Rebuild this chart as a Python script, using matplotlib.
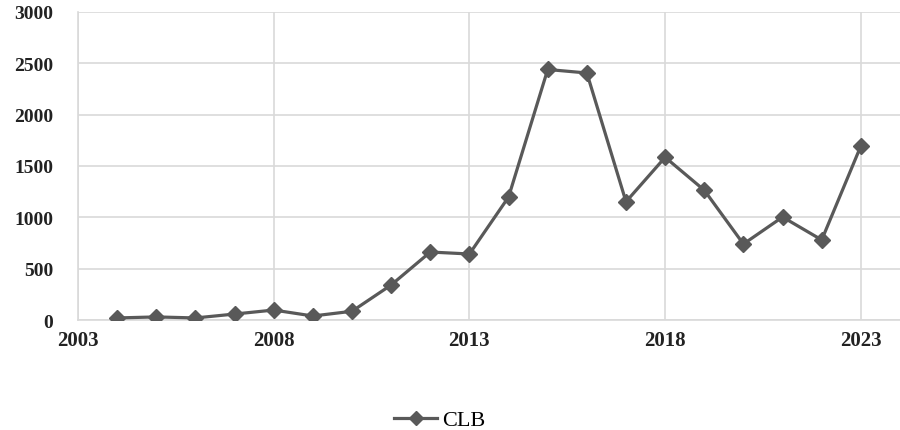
import matplotlib
matplotlib.use("Agg")
import matplotlib.pyplot as plt
from matplotlib.lines import Line2D

years = [2004, 2005, 2006, 2007, 2008, 2009, 2010, 2011, 2012, 2013,
         2014, 2015, 2016, 2017, 2018, 2019, 2020, 2021, 2022, 2023]
clb = [20, 30, 20, 58, 97, 39, 85, 341, 662, 643,
       1198, 2440, 2406, 1152, 1585, 1264, 740, 1003, 780, 1695]
x_ticks = [2003, 2008, 2013, 2018, 2023]
y_ticks = [0, 500, 1000, 1500, 2000, 2500, 3000]
series_name = "CLB"

plt.rcParams['font.family'] = ['Liberation Serif', 'DejaVu Serif']

fig = plt.figure(figsize=(9, 4.31), dpi=100)
ax = fig.add_axes([78/900, 1-321/431, 1-78/900, (321-13)/431])

color = '#595959'
ax.plot(years, clb, color=color, linewidth=2.3, marker='D', markersize=8,
        markerfacecolor=color, markeredgecolor=color, zorder=3)

ax.set_xlim(2003, 2024)
ax.set_ylim(0, 3000)
ax.set_xticks(x_ticks)
ax.set_yticks(y_ticks)
ax.set_xticklabels([str(t) for t in x_ticks], fontsize=15, fontweight='bold', color='#222222')
ax.set_yticklabels([str(t) for t in y_ticks], fontsize=14, fontweight='bold', color='#222222')
ax.tick_params(axis='both', length=0)
ax.tick_params(axis='y', pad=18)
ax.tick_params(axis='x', pad=7)
ax.grid(True, color='#d9d9d9', linewidth=1.2)
ax.set_axisbelow(True)
for s in ['top', 'right']:
    ax.spines[s].set_visible(False)
ax.spines['left'].set_color('#d9d9d9')
ax.spines['bottom'].set_color('#d9d9d9')
ax.spines['left'].set_linewidth(1.2)
ax.spines['bottom'].set_linewidth(1.2)

handle = Line2D([0], [0], color=color, linewidth=2.3, marker='D', markersize=7,
                markerfacecolor=color, markeredgecolor=color)
fig.legend([handle], [series_name], loc='center', bbox_to_anchor=(440/900, 1-421/431),
           frameon=False, fontsize=16, handlelength=1.9, handletextpad=0.25)

fig.savefig('out.png', dpi=100)
